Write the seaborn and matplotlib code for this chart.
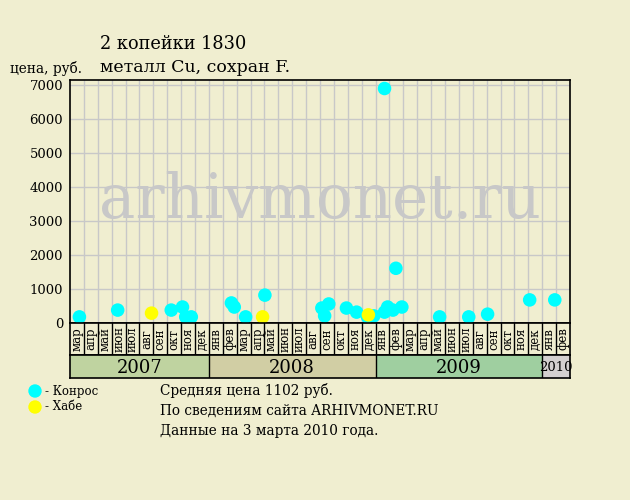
import numpy as np
import pandas as pd
import matplotlib
matplotlib.use("Agg")
import matplotlib.pyplot as plt
from matplotlib.patches import Ellipse
import seaborn as sns

# sale dates, prices (rub.) and seller
dates = ["2007-03-22", "2007-06-14", "2007-08-28", "2007-10-10", "2007-11-04",
         "2007-11-11", "2007-11-23", "2008-02-19", "2008-02-25", "2008-03-21",
         "2008-04-27", "2008-05-02", "2008-09-05", "2008-09-11", "2008-09-20",
         "2008-10-29", "2008-11-20", "2008-12-14", "2008-12-16", "2008-12-28",
         "2009-01-21", "2009-01-21", "2009-01-28", "2009-02-08", "2009-02-14",
         "2009-02-26", "2009-05-20", "2009-07-23", "2009-09-03", "2009-12-04",
         "2010-01-29"]
prices = [180, 380, 290, 380, 470,
          180, 180, 590, 470, 180,
          180, 820, 440, 210, 560,
          440, 320, 180, 240, 210,
          6900, 320, 470, 380, 1610,
          470, 180, 180, 260, 680,
          680]
sellers = ["Конрос", "Конрос", "Хабе", "Конрос", "Конрос",
           "Конрос", "Конрос", "Конрос", "Конрос", "Конрос",
           "Хабе", "Конрос", "Конрос", "Конрос", "Конрос",
           "Конрос", "Конрос", "Конрос", "Хабе", "Конрос",
           "Конрос", "Конрос", "Конрос", "Конрос", "Конрос",
           "Конрос", "Конрос", "Конрос", "Конрос", "Конрос",
           "Конрос"]

month_names = ["мар", "апр", "май", "июн", "июл", "авг", "сен", "окт", "ноя", "дек",
               "янв", "фев", "мар", "апр", "май", "июн", "июл", "авг", "сен", "окт", "ноя", "дек",
               "янв", "фев", "мар", "апр", "май", "июн", "июл", "авг", "сен", "окт", "ноя", "дек",
               "янв", "фев"]
years = ["2007", "2008", "2009", "2010"]
year_months = [10, 12, 12, 2]
year_colors = ["#bfd3a0", "#d1cea4", "#9fcfa0", "#d4d0d0"]
yticks = [0, 1000, 2000, 3000, 4000, 5000, 6000, 7000]

bg = "#f0eed0"
palette = {"Конрос": "#00ffff", "Хабе": "#ffff00"}

d = pd.to_datetime(pd.Series(dates))
df = pd.DataFrame({
    "pos": (d.dt.year - 2007) * 12 + d.dt.month - 3 + (d.dt.day - 1) / d.dt.days_in_month,
    "price": prices,
    "seller": sellers,
})
# yellow dots drawn on top
df = df.sort_values("seller", kind="stable")

sns.set_style("white")
plt.rcParams["font.family"] = ["DejaVu Serif"]
plt.rcParams["text.color"] = "black"
plt.rcParams["ytick.color"] = "black"

fig = plt.figure(figsize=(6.3, 5), dpi=100, facecolor=bg)
W, H = 630, 500
L, R, T, B = 70, 570, 80, 323
n = len(month_names)

ax = fig.add_axes([L / W, 1 - B / H, (R - L) / W, (B - T) / H], facecolor=bg)
ax.text(n / 2, 3600, "arhivmonet.ru", ha="center", va="center", fontsize=44,
        color="#c8c8c8", zorder=0)
for i in range(1, n):
    ax.axvline(i, color="#c8c8c8", lw=1, zorder=1)
for v in yticks[1:]:
    ax.axhline(v, color="#c8c8c8", lw=1, zorder=1)
sns.scatterplot(data=df, x="pos", y="price", hue="seller", palette=palette,
                s=95, edgecolor="none", legend=False, ax=ax, zorder=3, clip_on=False)
ax.set_xlim(0, n)
ax.set_ylim(0, 7150)
ax.set_xticks([])
ax.set_yticks(yticks)
ax.set_yticklabels([str(v) for v in yticks], fontsize=9.5)
ax.tick_params(axis="y", length=3, pad=2)
ax.set_xlabel("")
ax.set_ylabel("")
for sp in ax.spines.values():
    sp.set_color("black")
    sp.set_linewidth(1.2)

# month row
axm = fig.add_axes([L / W, 1 - 355 / H, (R - L) / W, 32 / H], facecolor=bg)
axm.set_xlim(0, n)
axm.set_ylim(0, 1)
for i in range(1, n):
    axm.axvline(i, color="black", lw=1)
for i, m in enumerate(month_names):
    axm.text(i + 0.5, 0.5, m, rotation=90, ha="center", va="center", fontsize=8.5)
axm.set_xticks([])
axm.set_yticks([])
for sp in axm.spines.values():
    sp.set_color("black")
    sp.set_linewidth(1.2)

# year row
axy = fig.add_axes([L / W, 1 - 378 / H, (R - L) / W, 23 / H], facecolor=bg)
axy.set_xlim(0, n)
axy.set_ylim(0, 1)
start = 0
for yr, cnt, col in zip(years, year_months, year_colors):
    axy.axvspan(start, start + cnt, color=col, lw=0)
    if start > 0:
        axy.axvline(start, color="black", lw=1)
    axy.text(start + cnt / 2, 0.45, yr, ha="center", va="center",
             fontsize=13 if cnt > 2 else 9.5)
    start += cnt
axy.set_xticks([])
axy.set_yticks([])
for sp in axy.spines.values():
    sp.set_color("black")
    sp.set_linewidth(1.2)

# titles and notes
fig.text(100 / W, 1 - 44 / H, "2 копейки 1830", fontsize=12.8, va="center")
fig.text(100 / W, 1 - 67 / H, "металл Cu, сохран F.", fontsize=12.5, va="center")
fig.text(10 / W, 1 - 69 / H, "цена, руб.", fontsize=9.8, va="center")

for k, (name, col) in enumerate(palette.items()):
    yy = 1 - (391 + 16 * k) / H
    fig.patches.append(Ellipse((35 / W, yy), 12 / W, 12 / H, transform=fig.transFigure,
                               color=col, figure=fig))
    fig.text(45 / W, yy, "- " + name, fontsize=8.5, va="center")

notes = ["Средняя цена 1102 руб.", "По сведениям сайта ARHIVMONET.RU",
         "Данные на 3 марта 2010 года."]
for k, s in enumerate(notes):
    fig.text(160 / W, 1 - (391 + 20 * k) / H, s, fontsize=9.8, va="center")

fig.savefig("out.png", dpi=100, facecolor=bg)
